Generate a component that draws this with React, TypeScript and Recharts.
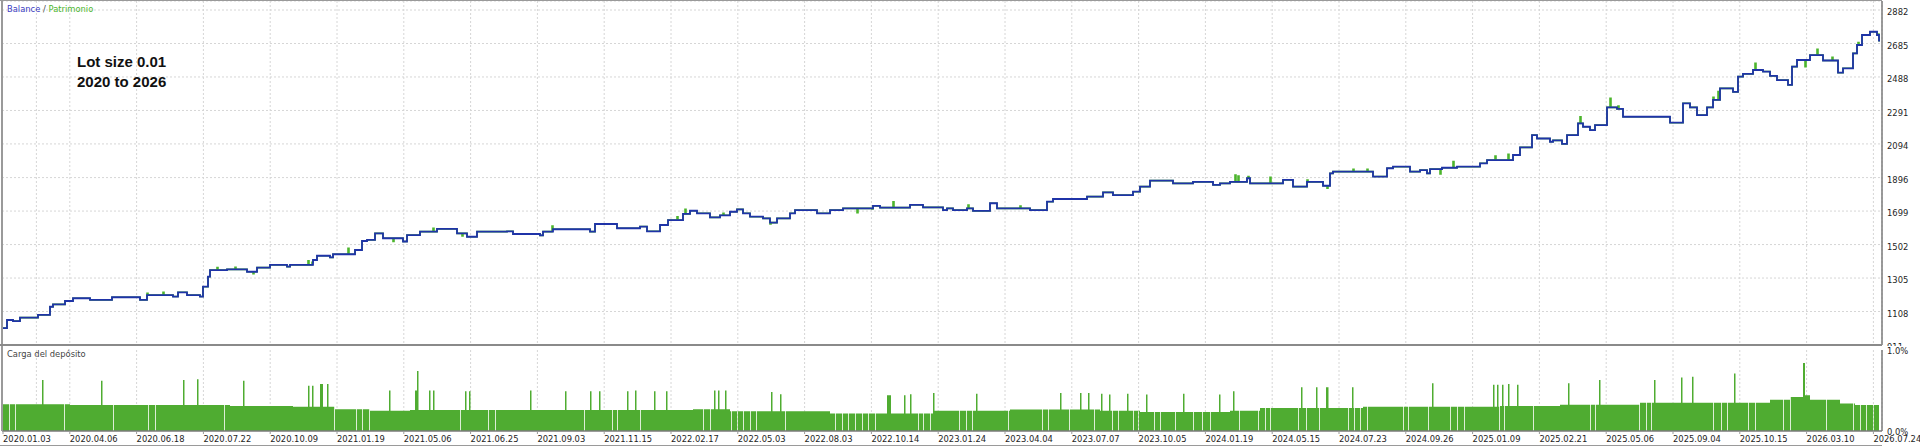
import React from 'react';
import { ComposedChart, Line, Area, XAxis, YAxis, CartesianGrid, ReferenceLine } from 'recharts';

const FONT = '"DejaVu Sans Condensed", "DejaVu Sans", sans-serif';

// x axis: trade sequence index, date labels at these trade indices
const dateLabels = [
  '2020.01.03', '2020.04.06', '2020.06.18', '2020.07.22', '2020.10.09', '2021.01.19', '2021.05.06',
  '2021.06.25', '2021.09.03', '2021.11.15', '2022.02.17', '2022.05.03', '2022.08.03', '2022.10.14',
  '2023.01.24', '2023.04.04', '2023.07.07', '2023.10.05', '2024.01.19', '2024.05.15', '2024.07.23',
  '2024.09.26', '2025.01.09', '2025.02.21', '2025.05.06', '2025.09.04', '2025.10.15', '2026.03.10',
  '2026.07.24',
];
const dateTicks = [
  0, 66.8, 133.6, 200.4, 267.2, 334, 400.8, 467.6, 534.4, 601.2, 668, 734.8, 801.6, 868.4, 935.2,
  1002, 1068.8, 1135.6, 1202.4, 1269.2, 1336, 1402.8, 1469.6, 1536.4, 1603.2, 1670, 1736.8, 1803.6, 1870.4,
];

// balance axis ticks
const balanceTicks = [911, 1108, 1305, 1502, 1699, 1896, 2094, 2291, 2488, 2685, 2882];
const balanceDomain = [911, 2935];

// balance curve: [trade index, balance]
const balance: [number, number][] = [
  [0, 1010], [4, 1058], [10, 1052], [17, 1072], [35, 1088], [47, 1136], [50, 1150], [62, 1170], [70, 1186],
  [87, 1176], [109, 1192], [137, 1176], [144, 1205], [170, 1196], [175, 1221], [184, 1205], [197, 1196],
  [200, 1254], [205, 1313], [207, 1352], [224, 1356], [244, 1342], [254, 1366], [267, 1382], [284, 1372],
  [287, 1382], [310, 1411], [314, 1436], [327, 1426], [330, 1445], [352, 1470], [359, 1523], [364, 1529],
  [372, 1568], [380, 1539], [400, 1520], [404, 1558], [417, 1578], [434, 1594], [454, 1568], [464, 1548],
  [474, 1578], [504, 1580], [510, 1564], [537, 1556], [540, 1578], [550, 1592], [587, 1578], [592, 1623],
  [614, 1598], [637, 1608], [644, 1580], [657, 1617], [665, 1646], [680, 1682], [687, 1701], [694, 1686],
  [707, 1662], [717, 1674], [727, 1695], [734, 1709], [740, 1686], [747, 1666], [760, 1656], [767, 1631],
  [774, 1656], [787, 1686], [792, 1705], [814, 1686], [827, 1705], [840, 1715], [870, 1729], [877, 1719],
  [907, 1735], [920, 1721], [940, 1705], [944, 1715], [950, 1705], [964, 1715], [970, 1700], [987, 1745],
  [994, 1715], [1027, 1705], [1044, 1754], [1050, 1770], [1084, 1784], [1100, 1809], [1110, 1793],
  [1130, 1813], [1137, 1843], [1147, 1878], [1170, 1862], [1190, 1871], [1210, 1853], [1217, 1862],
  [1227, 1871], [1244, 1892], [1247, 1862], [1280, 1882], [1290, 1843], [1304, 1871], [1320, 1848],
  [1327, 1921], [1330, 1931], [1370, 1902], [1384, 1951], [1390, 1960], [1407, 1931], [1417, 1940],
  [1424, 1921], [1427, 1946], [1439, 1954], [1454, 1960], [1477, 1980], [1484, 1999], [1510, 2029],
  [1517, 2074], [1529, 2146], [1534, 2126], [1547, 2107], [1550, 2115], [1559, 2094], [1564, 2146],
  [1575, 2215], [1580, 2195], [1587, 2175], [1592, 2205], [1604, 2309], [1614, 2300], [1620, 2254],
  [1667, 2219], [1680, 2333], [1687, 2309], [1694, 2264], [1704, 2309], [1710, 2353], [1717, 2421],
  [1730, 2400], [1735, 2490], [1740, 2506], [1750, 2529], [1760, 2520], [1767, 2494], [1774, 2470],
  [1785, 2441], [1789, 2549], [1794, 2588], [1807, 2617], [1820, 2585], [1835, 2513], [1840, 2539],
  [1850, 2627], [1854, 2676], [1859, 2735], [1867, 2754], [1874, 2735], [1876, 2702], [1877, 2702],
];

// equity (patrimonio) excursions away from balance: [trade index, equity]
const equitySpikes: [number, number][] = [
  [144, 1215], [160, 1221], [214, 1366], [232, 1368], [250, 1330], [305, 1407], [309, 1397], [345, 1480],
  [390, 1520], [430, 1598], [459, 1552], [549, 1611], [674, 1666], [682, 1709], [720, 1686], [767, 1623],
  [854, 1690], [869, 1712], [890, 1754], [965, 1735], [1017, 1729], [1232, 1911], [1235, 1905],
  [1245, 1902], [1267, 1898], [1304, 1882], [1324, 1833], [1350, 1945], [1364, 1945], [1437, 1917],
  [1450, 1990], [1492, 2023], [1505, 2033], [1577, 2254], [1607, 2362], [1615, 2317], [1710, 2368],
  [1715, 2402], [1752, 2568], [1802, 2549], [1814, 2651], [1829, 2604], [1855, 2690], [1875, 2740],
];

// deposit load (fraction of 1.0%): baseline level changes [trade index, load]
const loadBase: [number, number][] = [
  [0, 0.33], [67, 0.32], [227, 0.31], [290, 0.3], [332, 0.27], [367, 0.25], [407, 0.26], [690, 0.27],
  [727, 0.245], [827, 0.215], [930, 0.25], [1007, 0.265], [1097, 0.25], [1137, 0.235], [1227, 0.25],
  [1257, 0.285], [1360, 0.3], [1497, 0.31], [1557, 0.325], [1637, 0.35], [1767, 0.386], [1787, 0.42],
  [1802, 0.44], [1807, 0.386], [1837, 0.34], [1852, 0.32],
];
// load spikes: [trade index, load, width]
const loadSpikes: [number, number, number][] = [
  [39, 0.63, 1.5], [98, 0.62, 1.5], [180, 0.63, 1.5], [194, 0.64, 1.5], [240, 0.62, 1.5], [305, 0.56, 1.5],
  [309, 0.56, 1.5], [317, 0.58, 3], [324, 0.58, 1.5], [386, 0.5, 1.5], [412, 0.5, 4], [414, 0.74, 1.5],
  [426, 0.5, 1.5], [430, 0.5, 1.5], [462, 0.49, 1.5], [466, 0.49, 1.5], [527, 0.5, 1.5], [562, 0.49, 1.5],
  [587, 0.49, 1.5], [596, 0.49, 1.5], [624, 0.49, 1.5], [632, 0.5, 1.5], [651, 0.49, 1.5], [663, 0.49, 1.5],
  [711, 0.5, 1.5], [715, 0.5, 1.5], [722, 0.5, 1.5], [768, 0.48, 1.5], [777, 0.455, 1.5], [884, 0.44, 4],
  [901, 0.44, 1.5], [907, 0.455, 1.5], [930, 0.47, 1.5], [973, 0.46, 1.5], [1057, 0.47, 1.5],
  [1077, 0.47, 1.5], [1085, 0.47, 1.5], [1098, 0.46, 1.5], [1106, 0.45, 1.5], [1124, 0.46, 1.5],
  [1143, 0.45, 1.5], [1180, 0.46, 1.5], [1216, 0.45, 1.5], [1230, 0.49, 1.5], [1298, 0.54, 1.5],
  [1313, 0.54, 1.5], [1323, 0.54, 2.5], [1349, 0.54, 1.5], [1429, 0.59, 1.5], [1490, 0.57, 1.5],
  [1494, 0.57, 1.5], [1499, 0.57, 1.5], [1505, 0.58, 1.5], [1514, 0.57, 1.5], [1565, 0.59, 1.5],
  [1596, 0.63, 1.5], [1651, 0.63, 1.5], [1678, 0.66, 1.5], [1689, 0.67, 1.5], [1731, 0.71, 1.5],
  [1800, 0.84, 3],
];
// thin gaps in the load histogram: trade indices
const loadGaps = [
  6, 12, 61, 110, 145, 152, 221, 331, 353, 359, 366, 457, 485, 492, 581, 609, 614, 637, 700, 707, 728, 734,
  740, 747, 753, 782, 832, 839, 845, 852, 859, 865, 872, 915, 920, 927, 956, 963, 969, 1005, 1039, 1045,
  1066, 1091, 1109, 1115, 1130, 1135, 1151, 1157, 1172, 1190, 1199, 1207, 1236, 1255, 1262, 1267, 1295,
  1303, 1316, 1345, 1351, 1357, 1364, 1400, 1405, 1425, 1447, 1454, 1461, 1496, 1501, 1530, 1587, 1592,
  1636, 1643, 1648, 1710, 1718, 1724, 1745, 1752, 1780, 1787, 1823, 1850, 1857, 1863, 1870,
];
const loadEnd = 1876;
const loadTicks = [0, 1];

// ---- tables built from the arrays ----
const balanceData = balance.map(([t, v]) => ({ t, v }));
const levelAt = (arr: [number, number][], t: number) => {
  let v = arr[0][1];
  for (const [bt, bv] of arr) if (bt <= t) v = bv;
  return v;
};
const equityData = (() => {
  const pts: { t: number; v: number; o: number }[] = balance.map(([t, v]) => ({ t, v, o: 0 }));
  for (const [t, v] of equitySpikes) {
    pts.push({ t, v, o: 1 });
    pts.push({ t: t + 1, v: levelAt(balance, t + 1), o: 2 });
  }
  pts.sort((a, b) => a.t - b.t || a.o - b.o);
  return pts.map(({ t, v }) => ({ t, v }));
})();
const loadData = (() => {
  const pts: { t: number; v: number; o: number }[] = loadBase.map(([t, v]) => ({ t, v, o: 0 }));
  for (const [t, v, w] of loadSpikes) {
    pts.push({ t, v, o: 1 });
    pts.push({ t: t + w, v: levelAt(loadBase, t + w), o: 2 });
  }
  for (const t of loadGaps) {
    pts.push({ t, v: 0, o: 1 });
    pts.push({ t: t + 0.8, v: levelAt(loadBase, t + 0.8), o: 2 });
  }
  pts.push({ t: loadEnd, v: levelAt(loadBase, loadEnd), o: 3 });
  pts.sort((a, b) => a.t - b.t || a.o - b.o);
  return pts.map(({ t, v }) => ({ t, load: v }));
})();
const gridTicks = (() => {
  const out: number[] = [];
  dateTicks.forEach((d, i) => {
    out.push(d);
    if (i < dateTicks.length - 1) out.push((d + dateTicks[i + 1]) / 2);
  });
  return out;
})();
const xDomain = [-1, 1879];

const RightTick = (props: any) => {
  const { x, y, payload, off, fmt } = props;
  return (
    <text x={x} y={y + off} dy="0.355em" textAnchor="start" fontSize={9.3} fontFamily={FONT} fill="#1e1e1e">
      {fmt(payload.value)}
    </text>
  );
};
const BottomTick = (props: any) => {
  const { x, y, payload, index } = props;
  return (
    <text x={x} y={y} dy="0.71em" textAnchor="start" fontSize={9.3} fontFamily={FONT} fill="#1e1e1e">
      {dateLabels[index] ?? ''}
    </text>
  );
};

export default function App() {
  return (
    <div style={{ position: 'absolute', left: 0, top: 0, width: 1920, height: 446, background: '#fff', overflow: 'hidden' }}>
      <div style={{ position: 'absolute', left: 0, top: 0 }}>
        <ComposedChart width={1920} height={346} margin={{ top: 1, right: 0, bottom: 1, left: 2 }}>
          <CartesianGrid stroke="#d6d6d6" strokeDasharray="2 2" />
          <XAxis type="number" dataKey="t" domain={xDomain} ticks={gridTicks} hide allowDataOverflow />
          <YAxis
            orientation="right"
            width={38}
            domain={balanceDomain}
            ticks={balanceTicks}
            interval={0}
            allowDataOverflow
            tickLine={false}
            tickSize={3}
            tickMargin={2}
            axisLine={{ stroke: '#7a7a7a', strokeWidth: 1.5 }}
            tick={(p: any) => <RightTick {...p} off={2} fmt={(v: number) => String(v)} />}
          />
          <Line data={equityData} dataKey="v" type="stepAfter" stroke="#4cb52c" strokeWidth={1.6} dot={false} isAnimationActive={false} />
          <Line data={balanceData} dataKey="v" type="stepAfter" stroke="#1f33a8" strokeWidth={1.8} dot={false} isAnimationActive={false} />
        </ComposedChart>
      </div>
      <div style={{ position: 'absolute', left: 0, top: 346 }}>
        <ComposedChart width={1920} height={100} data={loadData} margin={{ top: 4, right: 0, bottom: 0, left: 2 }}>
          <CartesianGrid stroke="#d6d6d6" strokeDasharray="2 2" horizontal={false} xAxisId="g" />
          <XAxis xAxisId="g" type="number" dataKey="t" domain={xDomain} ticks={gridTicks} hide allowDataOverflow />
          <XAxis
            type="number"
            dataKey="t"
            domain={xDomain}
            ticks={dateTicks}
            interval={0}
            height={15}
            allowDataOverflow
            tickSize={3}
            tickMargin={1}
            tickLine={{ stroke: '#9a9a9a' }}
            axisLine={{ stroke: '#7a7a7a', strokeWidth: 1.5 }}
            tick={(p: any) => <BottomTick {...p} />}
          />
          <YAxis
            orientation="right"
            width={38}
            domain={[0, 1]}
            ticks={loadTicks}
            interval={0}
            tickLine={false}
            tickSize={3}
            tickMargin={2}
            axisLine={{ stroke: '#7a7a7a', strokeWidth: 1.5 }}
            tick={(p: any) => <RightTick {...p} off={1} fmt={(v: number) => v.toFixed(1) + '%'} />}
          />
          <Area dataKey="load" type="stepAfter" stroke="none" fill="#4fac31" fillOpacity={1} baseValue={0} isAnimationActive={false} />
        </ComposedChart>
      </div>
      {/* frame */}
      <div style={{ position: 'absolute', left: 0, top: 0, width: 1882, height: 1, background: '#9a9a9a' }} />
      <div style={{ position: 'absolute', left: 1, top: 0, width: 2, height: 431, background: '#9a9a9a' }} />
      <div style={{ position: 'absolute', left: 0, top: 344, width: 1882, height: 2, background: '#8a8a8a' }} />
      <div style={{ position: 'absolute', left: 0, top: 445, width: 1882, height: 1, background: '#9a9a9a' }} />
      {/* texts */}
      <div style={{ position: 'absolute', left: 7, top: 3, fontFamily: FONT, fontSize: 9.3, lineHeight: '12px', whiteSpace: 'nowrap' }}>
        <span style={{ color: '#3b3bc2' }}>Balance</span>
        <span style={{ color: '#444' }}> / </span>
        <span style={{ color: '#4cb52c' }}>Patrimonio</span>
      </div>
      <div style={{ position: 'absolute', left: 7, top: 348, fontFamily: FONT, fontSize: 9.3, lineHeight: '12px', color: '#444', whiteSpace: 'nowrap' }}>
        Carga del depósito
      </div>
      <div style={{ position: 'absolute', left: 77, top: 52, fontFamily: '"Liberation Sans", Arial, sans-serif', fontWeight: 700, fontSize: 15, lineHeight: '20px', color: '#111', whiteSpace: 'nowrap' }}>
        <div>Lot size 0.01</div>
        <div>2020 to 2026</div>
      </div>
    </div>
  );
}
